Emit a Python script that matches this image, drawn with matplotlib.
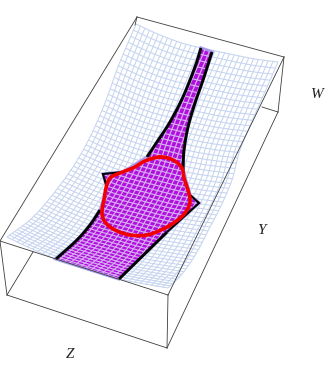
import numpy as np
import matplotlib
matplotlib.use('Agg')
import matplotlib.pyplot as plt
from matplotlib.collections import LineCollection
from matplotlib.patches import Polygon

# everything, in picture pixels (x, y)
mesh_left = [(7, 237), (31, 219), (50, 198), (73, 167), (90, 137), (105, 103), (118, 67), (136, 24)]
mesh_right = [(168, 288), (183, 273), (197, 252), (210, 227), (220, 208), (232, 180), (240, 150), (256, 112), (268, 85), (278, 62)]
mesh_front = [(7, 237), (30, 248), (56, 259), (90, 270), (119, 279), (145, 284), (168, 288)]
mesh_back = [(136, 24), (160, 35), (185, 44), (207, 49), (230, 54), (255, 59), (278, 62)]
mesh_cols = 30
mesh_rows = 52

black_upper_left = [(201, 48), (195, 67), (183, 97), (170, 122), (157, 142), (147, 157)]
black_tip_left = [(123, 172), (103, 174), (107, 188)]
black_lower_left = [(100, 210), (90, 225), (77, 240), (56, 259)]
black_upper_right = [(212, 52), (203, 80), (195, 103), (188, 127), (184, 150), (183, 170)]
black_tip_right = [(190, 195), (199, 203), (167, 232)]
black_lower_right = [(167, 232), (119, 279)]

red_loop = [(160, 157), (173, 160), (182, 168), (184, 178), (188, 190), (190, 202), (185, 213), (175, 222),
            (163, 229), (147, 235), (130, 235), (115, 230), (105, 222), (102, 212), (104, 200), (106, 188),
            (110, 178), (120, 173), (133, 168), (145, 161)]

box_edges = [
    [(137, 17), (284, 57)], [(137, 17), (0, 241)], [(0, 241), (168, 295)], [(284, 57), (168, 295)],
    [(0, 241), (7, 295)], [(7, 295), (167, 348)], [(168, 295), (167, 348)], [(284, 57), (278, 112)],
    [(278, 112), (167, 348)], [(262, 107), (278, 112)], [(7, 295), (33, 252)], [(137, 17), (135, 25)],
]

axis_labels = ['W', 'Y', 'Z']
label_spots = [(317, 94), (261, 231), (70, 354)]


def smooth(points, n=12, closed=False):
    # Catmull-Rom through the points
    p = np.array(points, dtype=float)
    if closed:
        p = np.vstack([p[-1], p, p[0], p[1]])
    else:
        p = np.vstack([2 * p[0] - p[1], p, 2 * p[-1] - p[-2]])
    out = []
    for i in range(1, len(p) - 2):
        for t in np.linspace(0, 1, n, endpoint=False):
            out.append(0.5 * (2 * p[i] + (p[i + 1] - p[i - 1]) * t
                              + (2 * p[i - 1] - 5 * p[i] + 4 * p[i + 1] - p[i + 2]) * t ** 2
                              + (3 * p[i] - p[i - 1] - 3 * p[i + 1] + p[i + 2]) * t ** 3))
    if not closed:
        out.append(p[-2])
    else:
        out.append(out[0])
    return np.array(out)


def resample(points, s):
    c = smooth(points)
    d = np.r_[0, np.cumsum(np.hypot(*np.diff(c, axis=0).T))]
    d = d / d[-1]
    return np.c_[np.interp(s, d, c[:, 0]), np.interp(s, d, c[:, 1])]


def build_mesh():
    # patch stretched between the four read edges, rows closer together at the front
    u = np.linspace(0, 1, mesh_cols + 1)
    s = np.linspace(0, 1, mesh_rows + 1)
    v = 0.62 * s + 0.38 * s ** 2
    front, back = resample(mesh_front, u), resample(mesh_back, u)
    left, right = resample(mesh_left, v), resample(mesh_right, v)
    U, V = np.meshgrid(u, v)
    grid = np.zeros(U.shape + (2,))
    for k in range(2):
        grid[..., k] = ((1 - V) * front[:, k][None, :] + V * back[:, k][None, :]
                        + (1 - U) * left[:, k][:, None] + U * right[:, k][:, None]
                        - ((1 - U) * (1 - V) * front[0, k] + U * (1 - V) * front[-1, k]
                           + (1 - U) * V * back[0, k] + U * V * back[-1, k]))
    return grid


fig = plt.figure(figsize=(3.27, 3.81), dpi=100)
ax = fig.add_axes([0, 0, 1, 1])
ax.set_xlim(0, 327)
ax.set_ylim(381, 0)
ax.axis('off')

grid = build_mesh()
segs = [row for row in grid] + [grid[:, j] for j in range(grid.shape[1])]

ax.add_collection(LineCollection(segs, colors='#c6d4f0', linewidths=0.75, zorder=1))

upper_left = smooth(black_upper_left)
lower_left = smooth(black_lower_left)
upper_right = smooth(black_upper_right)
band = np.vstack([upper_left, black_tip_left, lower_left, black_lower_right[::-1],
                  black_tip_right[::-1], upper_right[::-1]])
ax.add_patch(Polygon(band, closed=True, facecolor='#b0b6f0', edgecolor='#b0b6f0', linewidth=2.4, zorder=2))
ax.add_patch(Polygon(band, closed=True, facecolor='#b010dc', edgecolor='#a890ec', linewidth=1.6, zorder=3))

clip = Polygon(band, closed=True, transform=ax.transData)
inner = LineCollection(segs, colors='#d8aef4', linewidths=0.85, zorder=4)
ax.add_collection(inner)
inner.set_clip_path(clip)

for line in [upper_left, lower_left, upper_right]:
    ax.plot(line[:, 0], line[:, 1], color='black', lw=2.1, solid_capstyle='butt', zorder=5)
for line in [black_tip_left, black_tip_right, black_lower_right]:
    xs, ys = zip(*line)
    lw = 2.1 if line is black_lower_right else 1.5
    ax.plot(xs, ys, color='black', lw=lw, solid_joinstyle='miter', solid_capstyle='butt', zorder=5)

for edge in box_edges:
    xs, ys = zip(*edge)
    ax.plot(xs, ys, color='#3c3c3c', lw=0.6, zorder=6)

loop = smooth(red_loop, closed=True)
ax.plot(loop[:, 0], loop[:, 1], color='#f00000', lw=2.6, zorder=7)

for name, (x, y) in zip(axis_labels, label_spots):
    ax.text(x, y, name, family='Liberation Serif', style='italic', fontsize=11,
            color='#222222', ha='center', va='center')

fig.savefig('out.png', dpi=100)
